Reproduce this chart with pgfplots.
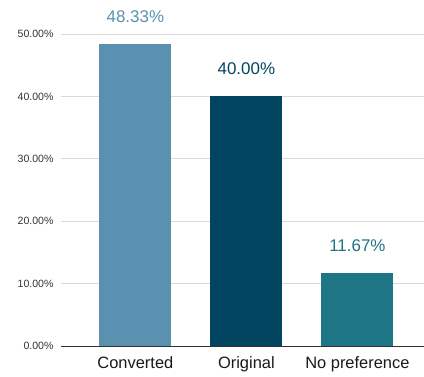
\documentclass[border=0pt]{standalone}
\usepackage{fontspec}
\setmainfont{Liberation Sans}
\usepackage{pgfplots}
\pgfplotsset{compat=1.18}
\definecolor{cConv}{HTML}{5A91B0}
\definecolor{cOrig}{HTML}{014561}
\definecolor{cNone}{HTML}{1E7585}
\definecolor{gridc}{HTML}{D9D9D9}
\definecolor{axc}{HTML}{333333}
\begin{document}
\begin{tikzpicture}
\useasboundingbox (-61bp,-31bp) rectangle (363bp,346bp);
\begin{axis}[
  scale only axis,
  width=363bp, height=312bp,
  xmin=-0.67, xmax=2.6,
  ymin=0, ymax=50,
  axis line style={draw=none},
  major tick length=0,
  ytick={0,10,20,30,40,50},
  ymajorgrids,
  grid style={gridc, line width=0.8pt},
  extra y ticks={0},
  extra y tick labels={},
  extra y tick style={grid style={axc, line width=0.8pt}},
  yticklabel={\pgfmathprintnumber[fixed,fixed zerofill,precision=2,assume math mode=true]{\tick}\%},
  yticklabel style={font=\fontsize{10.6}{12}\selectfont, text=axc, xshift=-4bp},
  xtick={0,1,2},
  xticklabels={Converted,Original,No preference},
  xticklabel style={font=\fontsize{16.5}{19}\selectfont, text=black!90, anchor=base, yshift=-22bp},
  clip=false,
  ybar, bar width=72bp, bar shift=0pt,
  nodes near coords={\pgfmathprintnumber[fixed,fixed zerofill,precision=2,assume math mode=true]{\pgfplotspointmeta}\%},
  every node near coord/.append style={font=\fontsize{17}{20}\selectfont, anchor=base, inner sep=0pt, yshift=22bp},
]
\addplot[fill=cConv, draw=none, every node near coord/.append style={text=cConv}] coordinates {(0,48.33)};
\addplot[fill=cOrig, draw=none, every node near coord/.append style={text=cOrig}] coordinates {(1,40.00)};
\addplot[fill=cNone, draw=none, every node near coord/.append style={text=cNone}] coordinates {(2,11.67)};
\end{axis}
\end{tikzpicture}
\end{document}
